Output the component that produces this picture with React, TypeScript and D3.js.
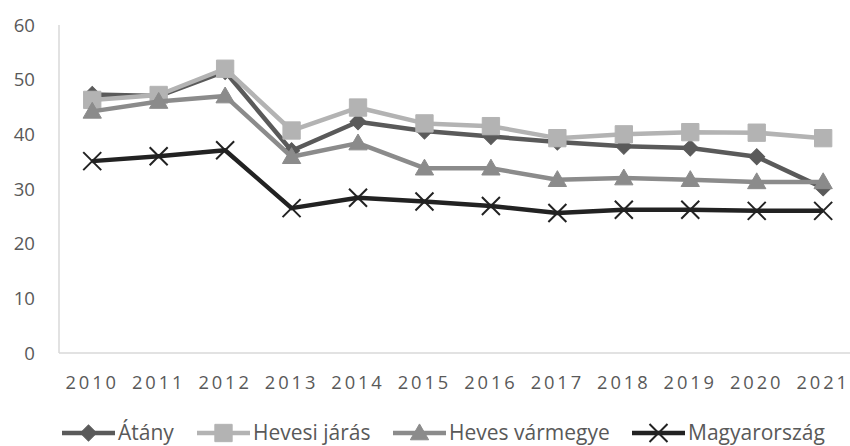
import React from "react";
import * as d3 from "d3";

const years = ["2010", "2011", "2012", "2013", "2014", "2015", "2016", "2017", "2018", "2019", "2020", "2021"];
const yTicks = [0, 10, 20, 30, 40, 50, 60];

const atany = [47.3, 47.0, 51.5, 37.0, 42.3, 40.6, 39.6, 38.6, 37.8, 37.5, 35.9, 30.2];
const hevesiJaras = [46.3, 47.2, 52.0, 40.7, 44.9, 42.0, 41.5, 39.3, 40.0, 40.4, 40.3, 39.3];
const hevesVarmegye = [44.2, 46.0, 47.0, 35.9, 38.4, 33.8, 33.8, 31.7, 32.0, 31.7, 31.3, 31.3];
const magyarorszag = [35.1, 36.0, 37.1, 26.5, 28.4, 27.7, 26.9, 25.6, 26.2, 26.2, 26.0, 26.0];

const seriesNames = ["Átány", "Hevesi járás", "Heves vármegye", "Magyarország"];

const W = 850;
const H = 446;
const font = "'Open Sans', sans-serif";

const series = [
  { name: seriesNames[0], values: atany, color: "#5a5a5a", kind: "diamond" },
  { name: seriesNames[1], values: hevesiJaras, color: "#b3b3b3", kind: "square" },
  { name: seriesNames[2], values: hevesVarmegye, color: "#8b8b8b", kind: "triangle" },
  { name: seriesNames[3], values: magyarorszag, color: "#222222", kind: "x" },
];

const symbolPath = (kind: string) => {
  if (kind === "diamond") return d3.symbol(d3.symbolSquare, 128)()!;
  if (kind === "square") return d3.symbol(d3.symbolSquare, 300)()!;
  if (kind === "triangle") return d3.symbol(d3.symbolTriangle, 145)()!;
  return d3.symbol(d3.symbolX, 213)()!;
};

const Marker = ({ kind, color, x, y }: { kind: string; color: string; x: number; y: number }) => {
  const rot = kind === "diamond" ? " rotate(45)" : "";
  const dy = kind === "triangle" ? 1.5 : 0;
  if (kind === "x") {
    return <path d={symbolPath(kind)} transform={`translate(${x},${y})`} fill="none" stroke={color} strokeWidth={2} />;
  }
  return <path d={symbolPath(kind)} transform={`translate(${x},${y + dy})${rot}`} fill={color} stroke={color} strokeWidth={1} />;
};

const legendX = [62, 197, 393, 632];

export default function App() {
  const x = d3.scaleBand<string>().domain(years).range([59, 59 + 12 * 66.45]).paddingInner(0);
  const cx = (yr: string) => (x(yr) as number) + x.bandwidth() / 2;
  const y = d3.scaleLinear().domain([0, 60]).range([353, 25]);

  const line = d3
    .line<number>()
    .x((_, i) => cx(years[i]))
    .y((v) => y(v));

  return (
    <svg width={W} height={H} style={{ position: "absolute", left: 0, top: 0, background: "#fff" }}>
      {/* axes */}
      <line x1={59} x2={W} y1={y(0)} y2={y(0)} stroke="#d9d9d9" strokeWidth={1.5} />
      <line x1={59} x2={59} y1={y(60)} y2={y(0)} stroke="#d9d9d9" strokeWidth={1.5} />

      {yTicks.map((t) => (
        <text key={t} x={35} y={y(t)} dy="0.35em" textAnchor="end" fontFamily={font} fontSize={18.6} fill="#595959">
          {t}
        </text>
      ))}

      {years.map((yr) => (
        <text key={yr} x={cx(yr)} y={388.5} textAnchor="middle" fontFamily={font} fontSize={18.3} letterSpacing={2.9} fill="#595959">
          {yr}
        </text>
      ))}

      {series.map((s) => (
        <g key={s.name}>
          <path d={line(s.values)!} fill="none" stroke={s.color} strokeWidth={4.5} strokeLinejoin="round" />
          {s.values.map((v, i) => (
            <Marker key={i} kind={s.kind} color={s.color} x={cx(years[i])} y={y(v)} />
          ))}
        </g>
      ))}

      {series.map((s, i) => (
        <g key={s.name} transform={`translate(${legendX[i]},433)`}>
          <line x1={0} x2={53} y1={0} y2={0} stroke={s.color} strokeWidth={4.5} />
          <Marker kind={s.kind} color={s.color} x={26.5} y={0} />
          <text x={56} y={0} dy="0.35em" fontFamily={font} fontSize={21} fill="#595959">
            {s.name}
          </text>
        </g>
      ))}
    </svg>
  );
}
